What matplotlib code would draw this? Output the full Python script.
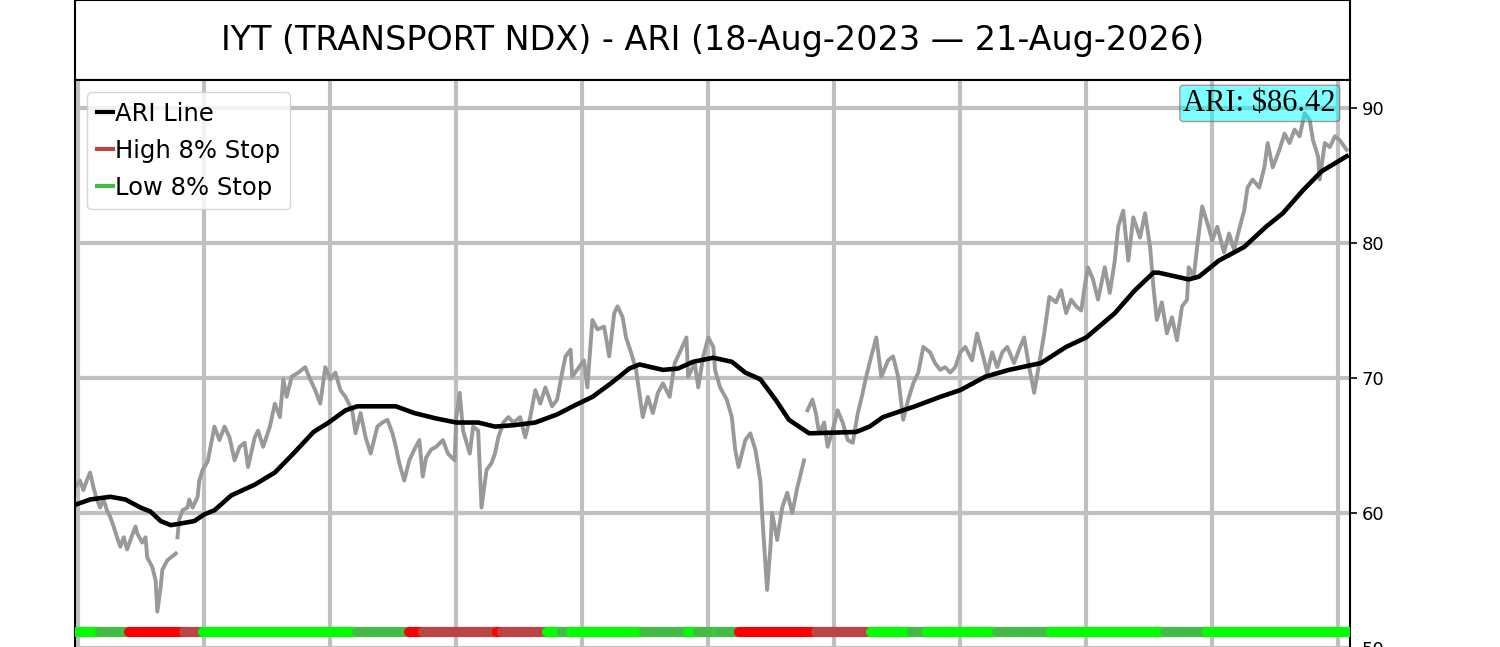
import numpy as np
import matplotlib.pyplot as plt
from matplotlib.lines import Line2D

# trading-session index (x) and daily close, nan = gap in data
price_day = [0, 3, 5, 7, 9, 11, 13, 15, 17, 19, 21, 23, 25, 27, 29, 31, 33, 36, 37, 40,
             42, 43, 46, 48, 49, 51, 52, 55, 57, 60, 60.5, 61, 62, 64, 67, 68, 70, 73, 74, 76,
             79, 83, 86, 89, 92, 95, 98, 101, 103, 107, 109, 112, 116, 119, 122, 124, 126, 129, 133, 137,
             140, 143, 146, 149, 152, 155, 158, 161, 165, 167, 170, 173, 176, 180, 183, 186, 189, 191, 193, 196,
             199, 202, 205, 207, 209, 212, 215, 219, 222, 226, 227, 229, 231, 235, 237, 240, 242, 245, 248, 250,
             252, 255, 258, 261, 265, 268, 271, 274, 277, 280, 284, 287, 290, 292, 295, 296, 300, 303, 305, 308,
             311, 315, 318, 321, 323, 326, 328, 331, 334, 338, 341, 344, 347, 350, 354, 357, 360, 364, 365, 369,
             371, 374, 377, 380, 381, 384, 388, 391, 393, 395, 399, 402, 405, 408, 409, 412, 414, 415, 418, 421,
             424, 427, 430, 433, 434, 435, 436, 439, 441, 443, 446, 448, 451, 454, 457, 460, 463, 466, 468, 471,
             474, 477, 480, 484, 487, 490, 493, 496, 499, 502, 505, 509, 512, 515, 518, 521, 524, 527, 530, 534,
             537, 540, 543, 546, 549, 552, 555, 559, 562, 565, 568, 571, 574, 577, 580, 584, 587, 590, 593, 596,
             599, 601, 603, 606, 609, 613, 616, 619, 621, 624, 627, 630, 634, 637, 640, 642, 644, 647, 650, 653,
             656, 659, 662, 663, 666, 668, 671, 674, 677, 680, 684, 687, 690, 693, 696, 698, 701, 705, 708, 710,
             713, 717, 720, 723, 726, 729, 732, 735, 737, 740, 741, 744, 747, 750, 753, 757]
price_close = [61.9, 62.4, 61.7, 62.4, 63.0, 61.9, 61.0, 60.4, 61.0, 60.2, 59.7, 59.0, 58.2, 57.5, 58.2, 57.3, 58.0, 59.0, 58.5, 57.8,
               58.2, 56.7, 56.0, 55.0, 52.7, 54.5, 55.8, 56.5, 56.7, 57.0, np.nan, 58.2, 59.5, 60.2, 60.4, 61.0, 60.4, 61.2, 62.4, 63.2,
               63.8, 66.4, 65.4, 66.4, 65.6, 63.9, 64.9, 65.2, 63.4, 65.6, 66.1, 64.9, 66.4, 68.1, 67.1, 69.9, 68.6, 70.1, 70.4, 70.8,
               69.9, 69.1, 68.1, 70.8, 69.9, 70.4, 69.1, 68.6, 67.6, 65.9, 67.4, 65.6, 64.4, 66.4, 66.7, 66.9, 65.9, 64.9, 63.7, 62.4,
               63.9, 64.7, 65.4, 62.7, 64.1, 64.7, 64.9, 65.4, 64.4, 63.9, 67.1, 68.9, 66.1, 64.4, 66.4, 66.1, 60.4, 63.2, 63.7, 64.4,
               65.6, 66.7, 67.1, 66.7, 67.1, 65.6, 67.1, 69.1, 68.1, 69.3, 67.9, 68.4, 70.4, 71.6, 72.1, 70.1, 70.8, 71.3, 69.3, 74.3,
               73.6, 73.8, 71.6, 74.8, 75.3, 74.5, 73.0, 71.9, 70.6, 67.1, 68.6, 67.4, 68.9, 69.6, 68.6, 71.1, 71.9, 73.0, 70.1, 71.1,
               69.3, 71.6, 73.0, 72.3, 70.6, 69.3, 68.4, 67.1, 64.7, 63.4, 65.4, 65.9, 64.7, 62.4, 60.0, 54.3, 57.5, 60.0, 58.0, 60.4,
               61.5, 60.0, 61.9, 63.4, 63.9, np.nan, 67.6, 68.4, 67.4, 65.9, 66.7, 64.9, 66.1, 67.6, 66.7, 65.4, 65.2, 67.4, 68.4, 70.1,
               71.6, 73.0, 70.1, 71.3, 71.6, 70.1, 66.9, 68.4, 69.6, 70.4, 72.3, 71.9, 71.1, 70.6, 70.8, 70.4, 70.8, 71.9, 72.3, 71.3,
               73.3, 71.9, 70.4, 71.9, 70.8, 71.9, 72.3, 71.1, 72.1, 73.0, 70.8, 68.9, 71.1, 73.3, 76.0, 75.6, 76.5, 74.8, 75.8, 75.3,
               75.0, 76.7, 78.2, 77.3, 75.8, 78.2, 76.3, 78.7, 81.2, 82.4, 78.7, 81.9, 80.4, 82.2, 79.7, 76.7, 74.3, 75.6, 73.3, 74.5,
               72.8, 75.3, 75.8, 78.2, 77.5, 79.7, 82.7, 81.5, 80.2, 81.2, 79.3, 80.7, 79.5, 81.0, 82.4, 84.1, 84.7, 84.1, 85.6, 87.4,
               85.6, 86.9, 88.1, 87.4, 88.4, 87.9, 89.6, 89.1, 87.6, 86.4, 84.7, 87.4, 87.1, 87.9, 87.6, 86.9]

ari_day = [0, 9, 21, 30, 39, 45, 51, 57, 62, 71, 77, 83, 93, 107, 119, 130, 142, 151, 161, 168,
           191, 202, 215, 227, 240, 250, 261, 274, 287, 298, 308, 319, 330, 336, 350, 359, 368, 380, 391, 399,
           408, 417, 425, 431, 437, 465, 473, 481, 500, 515, 527, 542, 556, 575, 590, 602, 619, 631, 642, 645,
           663, 669, 681, 696, 709, 719, 731, 742, 757]
ari_value = [60.6, 61.0, 61.2, 61.0, 60.4, 60.1, 59.4, 59.1, 59.2, 59.4, 59.9, 60.2, 61.3, 62.1, 63.0, 64.4, 66.0, 66.7, 67.6, 67.9,
             67.9, 67.4, 67.0, 66.7, 66.7, 66.4, 66.5, 66.7, 67.3, 68.0, 68.6, 69.6, 70.7, 71.0, 70.6, 70.7, 71.2, 71.5, 71.2, 70.4,
             69.9, 68.4, 66.9, 66.4, 65.9, 66.0, 66.4, 67.1, 67.9, 68.6, 69.1, 70.1, 70.6, 71.1, 72.3, 73.0, 74.8, 76.5, 77.8, 77.8,
             77.3, 77.5, 78.7, 79.7, 81.2, 82.2, 83.9, 85.3, 86.42]

# 8% stop state bar along the bottom: start session of each stretch and its state
stop_start = [0, 15, 32, 65, 76, 168, 199, 207, 251, 254, 281, 290, 295, 339, 365,
              371, 382, 383, 395, 441, 474, 498, 507, 549, 581, 649, 674]
stop_state = ['low_new', 'low', 'high_new', 'high', 'low_new', 'low', 'high_new', 'high', 'high_new', 'high',
              'low_new', 'low', 'low_new', 'low', 'low_new', 'low', 'low_new', 'low', 'high_new', 'high',
              'low_new', 'low', 'low_new', 'low', 'low_new', 'low', 'low_new']
last_day = 759
state_colors = {'low_new': '#00ff00', 'low': '#44bb44', 'high_new': '#ff0000', 'high': '#bb4444'}

grid_days = [2 + 75 * k for k in range(11)]
y_ticks = [50, 60, 70, 80, 90]

fig = plt.figure(figsize=(15, 6.47), dpi=100)

# title box
tax = fig.add_axes([0.05, 0.87635, 0.85, 0.12365])
tax.set_xticks([])
tax.set_yticks([])
for s in tax.spines.values():
    s.set_linewidth(1.5)
tax.text(0.5, 0.5, 'IYT (TRANSPORT NDX) - ARI (18-Aug-2023 \u2014 21-Aug-2026)',
         ha='center', va='center', fontsize=24, transform=tax.transAxes)

ax = fig.add_axes([0.05, -0.03555, 0.85, 0.9119])
ax.plot(price_day, price_close, color='#999999', lw=2.8, zorder=2)
ax.plot(ari_day, ari_value, color='black', lw=3.3, zorder=3)

bounds = stop_start + [last_day]
for i, st in enumerate(stop_state):
    ax.plot([bounds[i], bounds[i + 1]], [51.2, 51.2], color=state_colors[st], lw=7.3,
            solid_capstyle='round', zorder=4)

ax.set_xlim(0, last_day)
ax.set_ylim(48.37, 92.07)
ax.set_xticks(grid_days)
ax.set_xticklabels([])
ax.tick_params(axis='x', length=0)
ax.set_yticks(y_ticks)
ax.yaxis.tick_right()
ax.tick_params(axis='y', labelsize=13, width=1.2, length=5)
ax.grid(True, color='#c0c0c0', lw=3)
for s in ax.spines.values():
    s.set_linewidth(1.5)

ax.text(0.989, 0.985, f'ARI: ${ari_value[-1]:.2f}', transform=ax.transAxes, ha='right', va='top',
        fontsize=22, family='Liberation Serif', zorder=6,
        bbox=dict(boxstyle='round,pad=0.12', facecolor='cyan', edgecolor='brown', alpha=0.5))

handles = [Line2D([], [], color='black', lw=3),
           Line2D([], [], color='#bb4444', lw=3),
           Line2D([], [], color='#44bb44', lw=3)]
ax.legend(handles, ['ARI Line', 'High 8% Stop', 'Low 8% Stop'], loc='upper left', fontsize=17.5,
          handlelength=0.65, handletextpad=0.1, labelspacing=0.53, borderpad=0.4)

plt.savefig('out.png', dpi=100)
